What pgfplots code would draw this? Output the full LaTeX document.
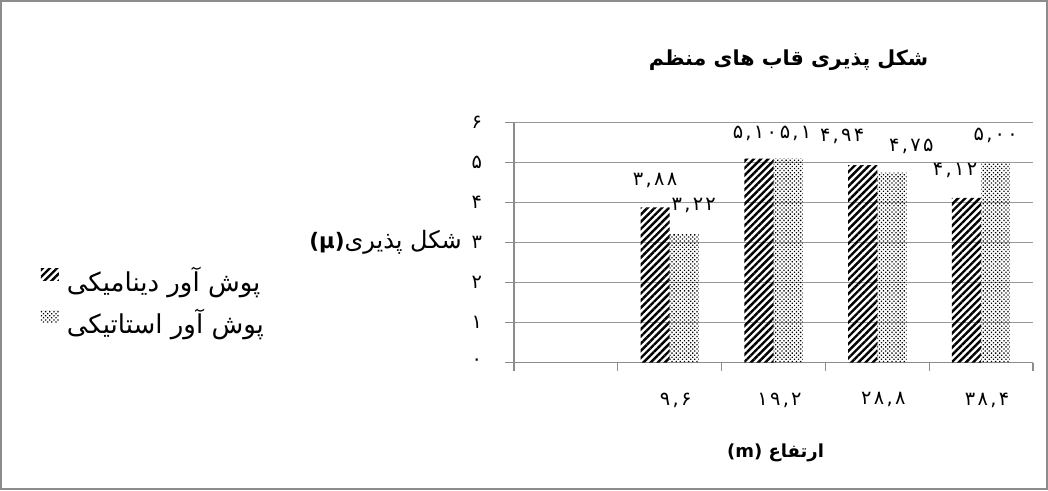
\documentclass[border=0pt]{standalone}
\usepackage{fontspec}
\setmainfont{DejaVu Sans}
\newfontfamily\arabicfont[Script=Arabic]{DejaVu Sans}
\newfontfamily\digitfont[LetterSpace=12]{DejaVu Sans}
\TeXXeTstate=1
\usepackage{pgfplots}
\pgfplotsset{compat=1.18}
\usepackage{pgfplotstable}
\usetikzlibrary{patterns.meta}

% x y label dx dy (label offsets in pt from bar top)
\pgfplotstableread{
x y lab dx dy
1 3.88 ۳,۸۸ 0 20.25
2 5.10 ۵,۱۰ -3 18.75
3 4.94 ۴,۹۴ -15.4 21.75
4 4.12 ۴,۱۲ -8.6 20.25
}\dynamic

\pgfplotstableread{
x y lab dx dy
1 3.22 ۳,۲۲ 7.1 21
2 5.10 ۵,۱ 5.6 18.75
3 4.75 ۴,۷۵ 14.6 19.5
4 5.00 ۵,۰۰ 0 20.25
}\static

\begin{document}
\begin{tikzpicture}
\useasboundingbox (0,0) rectangle (786pt,367.5pt);
\draw[black!45, line width=1.1pt] (0.75pt,0.75pt) rectangle (785.25pt,366.75pt);
\begin{axis}[
    at={(385.5pt,95.5pt)}, anchor=south west,
    scale only axis, width=389.25pt, height=180pt,
    xmin=-0.5, xmax=4.5, ymin=0, ymax=6,
    clip=false,
    ybar=0pt, bar width=21.9pt,
    axis x line*=bottom, axis y line*=left,
    axis line style={black!45, line width=0.8pt, -},
    ymajorgrids, major grid style={black!40, line width=0.8pt},
    tick align=outside, major tick length=6.5pt,
    tick style={black!45, line width=0.8pt},
    xtick={-0.5,0.5,...,4.5}, xticklabels={},
    extra x ticks={0,1,2,3,4},
    extra x tick labels={{},{۹,۶},{۱۹,۲},{۲۸,۸},{۳۸,۴}},
    extra x tick style={major tick length=0pt, grid=none,
        xticklabel style={yshift=-19pt, xshift=4.5pt}},
    ytick={0,...,6}, yticklabels={۰,۱,۲,۳,۴,۵,۶},
    yticklabel style={xshift=-14pt},
    ticklabel style={font=\digitfont\fontsize{14.5}{16}\selectfont},
    point meta=explicit symbolic,
    visualization depends on={\thisrow{dx}\as\labdx},
    visualization depends on={\thisrow{dy}\as\labdy},
    nodes near coords={\pgfplotspointmeta},
    every node near coord/.append style={anchor=center,
        xshift=\labdx pt, yshift=\labdy pt,
        font=\digitfont\fontsize{14.5}{16}\selectfont},
    title={\arabicfont\bfseries\fontsize{15.5}{18}\selectfont\beginR شکل پذیری قاب های منظم\endR},
    every axis title/.style={at={(rel axis cs:0.529,1.261)}, anchor=center},
    xlabel={\bfseries\fontsize{13.5}{16}\selectfont (m) {\arabicfont\beginR ارتفاع\endR}},
    every axis x label/.style={at={(rel axis cs:0.504,-0.375)}, anchor=center},
    ylabel={{\fontsize{16}{19}\selectfont\textbf{(μ)}}{\arabicfont\fontsize{18}{20}\selectfont\beginR شکل پذیری\endR}},
    every axis y label/.style={at={(rel axis cs:-0.0915,0.503)}, anchor=east},
    legend style={at={(-0.92,0.255)}, anchor=west, draw=none, fill=none,
        row sep=8pt, font=\arabicfont\fontsize{19.5}{21}\selectfont,
        /tikz/every odd column/.append style={column sep=4pt}},
    legend cell align=left, legend plot pos=left,
    legend image code/.code={\fill[#1] (0pt,0pt) rectangle (13.5pt,9pt);},
]
\addplot[draw=none, pattern={Lines[angle=45, distance=3.8pt, line width=1.8pt]}, pattern color=black]
    table[x=x, y=y, meta=lab] {\dynamic};
\addlegendentry{\beginR پوش آور دینامیکی\endR}
\addplot[draw=none, pattern={Dots[angle=45, distance=2.2pt, radius=0.68pt]}, pattern color=black]
    table[x=x, y=y, meta=lab] {\static};
\addlegendentry{\beginR پوش آور استاتیکی\endR}
\end{axis}
\end{tikzpicture}
\end{document}
